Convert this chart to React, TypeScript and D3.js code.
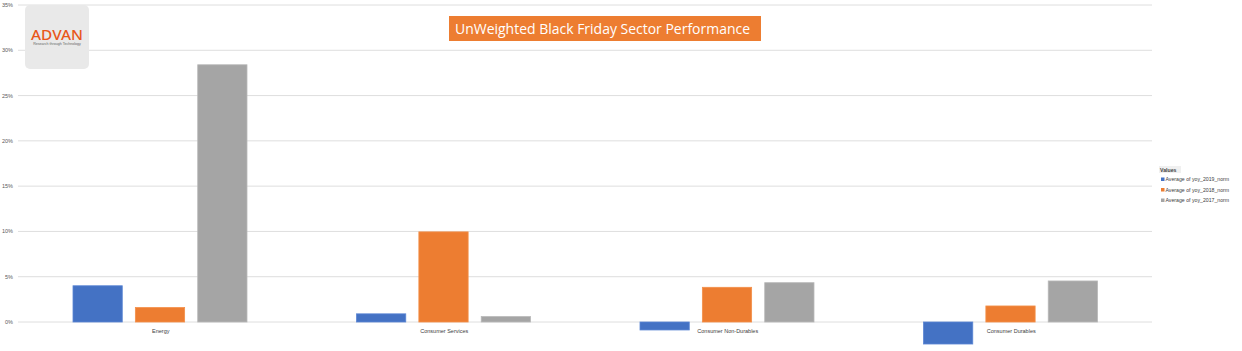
import { useMemo } from 'react';
import * as d3 from 'd3';

const categories = ['Energy', 'Consumer Services', 'Consumer Non-Durables', 'Consumer Durables'];
const seriesNames = ['Average of yoy_2019_norm', 'Average of yoy_2018_norm', 'Average of yoy_2017_norm'];
const yoy2019 = [0.040, 0.009, -0.0088, -0.0243];
const yoy2018 = [0.016, 0.0995, 0.0383, 0.0177];
const yoy2017 = [0.284, 0.006, 0.0434, 0.0453];
const yTicks = [0, 0.05, 0.1, 0.15, 0.2, 0.25, 0.3, 0.35];
const colors = ['#4472C4', '#ED7D31', '#A5A5A5'];
const strokes = ['#5b86d4', '#f4904a', '#b8b8b8'];

const W = 1242;
const H = 351;

export default function App() {
  const series = [yoy2019, yoy2018, yoy2017];

  const x = useMemo(() => d3.scaleBand<string>().domain(categories).range([18, 1152]).padding(0), []);
  const y = useMemo(() => d3.scaleLinear().domain([0, 0.35]).range([322, 5]), []);
  const inner = d3.scaleBand<number>().domain([0, 1, 2]).range([55, 229]).paddingInner(0.21);
  const fmt = d3.format('.0%');

  return (
    <svg width={W} height={H} style={{ position: 'absolute', left: 0, top: 0, background: '#fff' }}
      fontFamily="'Liberation Sans', Arial, sans-serif">
      {/* gridlines + y labels */}
      {yTicks.map(t => (
        <g key={t}>
          <line x1={18} x2={1152} y1={y(t)} y2={y(t)} stroke="#dedede" strokeWidth={1} />
          <text x={13} y={y(t) + 2} fontSize={5.5} fill="#595959" textAnchor="end">{fmt(t)}</text>
        </g>
      ))}

      {/* bars */}
      {categories.map((c, ci) => (
        <g key={c} transform={`translate(${x(c)},0)`}>
          {series.map((s, si) => {
            const v = s[ci];
            const y0 = y(Math.max(0, v));
            const h = Math.abs(y(v) - y(0));
            return (
              <rect key={si} x={inner(si)} y={y0} width={inner.bandwidth()} height={h}
                fill={colors[si]} stroke={strokes[si]} strokeWidth={0.8} />
            );
          })}
          <text x={x.bandwidth() / 2 + 1} y={333} fontSize={5.5} fill="#404040" textAnchor="middle">{c}</text>
        </g>
      ))}

      {/* logo */}
      <rect x={25} y={5} width={64} height={64} rx={5} fill="#e9e9e9" />
      <text x={31} y={40} fontSize={14} fill="#e8571a" fontFamily="'Noto Sans', sans-serif"
        fontWeight={500} textLength={52} lengthAdjust="spacingAndGlyphs">ADVAN</text>
      <text x={57} y={45} fontSize={3.6} fill="#666" textAnchor="middle">Research through Technology</text>

      {/* title */}
      <rect x={449} y={16} width={312} height={25} fill="#ED7D31" />
      <text x={455} y={33.5} fontSize={15} fill="#fff" fontFamily="'Open Sans', sans-serif"
        textLength={295} lengthAdjust="spacingAndGlyphs">UnWeighted Black Friday Sector Performance</text>

      {/* legend */}
      <rect x={1159} y={166} width={22} height={7} fill="#f0f0f0" />
      <text x={1160} y={171.5} fontSize={5.2} fill="#404040" fontWeight="bold">Values</text>
      {seriesNames.map((n, i) => (
        <g key={n} transform={`translate(1161,${181 + i * 10.5})`}>
          <rect x={0} y={-3.5} width={3.5} height={3.5} fill={colors[i]} />
          <text x={4.5} y={0} fontSize={5.2} fill="#404040">{n}</text>
        </g>
      ))}
    </svg>
  );
}
